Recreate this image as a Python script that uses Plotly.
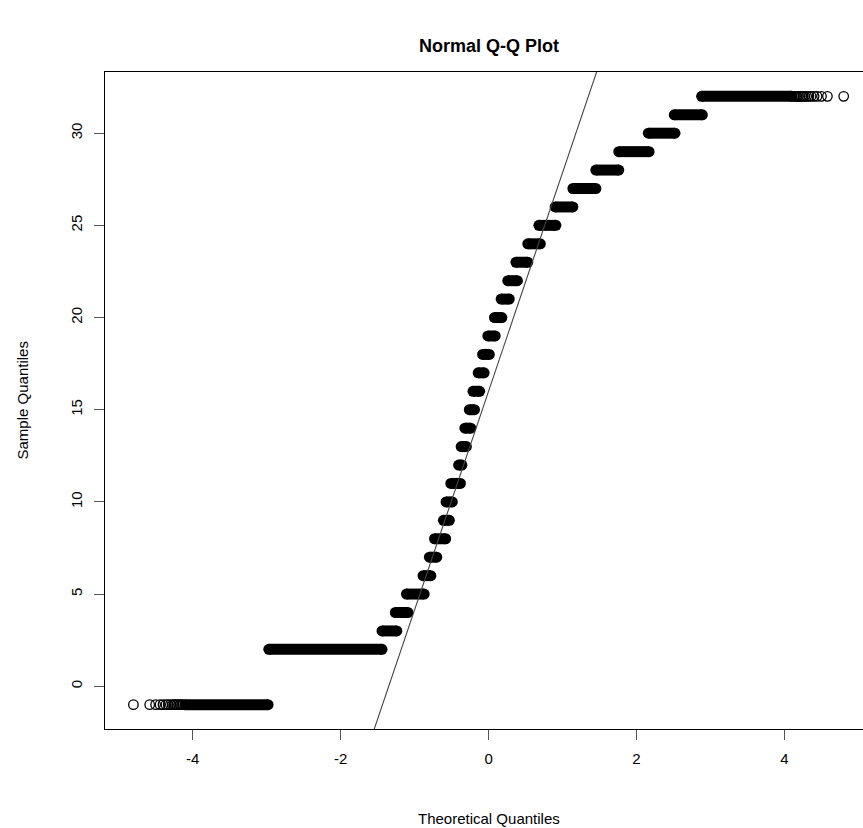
import plotly.graph_objects as go
import numpy as np

# ---- data (theoretical quantile span of each sample value) ----
levels = [2, 3, 4, 5, 6, 7, 8, 9, 10, 11, 12, 13, 14, 15, 16, 17, 18, 19, 20, 21,
          22, 23, 24, 25, 26, 27, 28, 29, 30, 31]
run_start = [-2.97, -1.44, -1.26, -1.11, -0.885, -0.80, -0.73, -0.61, -0.574, -0.51,
             -0.405, -0.37, -0.32, -0.26, -0.21, -0.14, -0.08, -0.01, 0.08, 0.17,
             0.26, 0.37, 0.53, 0.68, 0.90, 1.14, 1.45, 1.76, 2.16, 2.51]
run_end = [-1.44, -1.24, -1.09, -0.87, -0.78, -0.70, -0.58, -0.53, -0.49, -0.38,
           -0.36, -0.30, -0.24, -0.19, -0.12, -0.06, 0.01, 0.09, 0.18, 0.28,
           0.39, 0.53, 0.70, 0.91, 1.14, 1.45, 1.76, 2.17, 2.52, 2.89]

low_level = -1
low_dense = [-4.10, -2.98]
low_tail = [-4.80, -4.58, -4.50, -4.44, -4.40, -4.36, -4.33, -4.30, -4.27, -4.25,
            -4.23, -4.21, -4.19, -4.17, -4.15, -4.13]

high_level = 32
high_dense = [2.88, 4.10]
high_tail = [4.13, 4.15, 4.17, 4.19, 4.21, 4.23, 4.25, 4.27, 4.30, 4.33, 4.36,
             4.40, 4.44, 4.50, 4.58, 4.80]

# quartiles used by qqline
sample_quartiles = [8.0, 24.0]
theoretical_quartiles = [-0.6745, 0.6745]

x_ticks = [-4, -2, 0, 2, 4]
y_ticks = [0, 5, 10, 15, 20, 25, 30]

# ---- build run segments ----
all_levels = [low_level] + levels + [high_level]
all_start = [low_dense[0]] + run_start + [high_dense[0]]
all_end = [low_dense[1]] + run_end + [high_dense[1]]
seg_x, seg_y = [], []
for lv, s, e in zip(all_levels, all_start, all_end):
    seg_x += [s, e, None]
    seg_y += [lv, lv, None]

FONT = "Liberation Sans, Arial, Helvetica, sans-serif"

fig = go.Figure()
fig.add_trace(go.Scatter(
    x=seg_x, y=seg_y, mode="lines+markers",
    line=dict(color="black", width=11),
    marker=dict(color="black", size=11, line=dict(width=0)),
    hoverinfo="skip", showlegend=False,
))
fig.add_trace(go.Scatter(
    x=low_tail + high_tail,
    y=[low_level] * len(low_tail) + [high_level] * len(high_tail),
    mode="markers",
    marker=dict(symbol="circle-open", size=9.5, color="black", line=dict(width=1.3)),
    hoverinfo="skip", showlegend=False,
))

# qqline through the quartiles
slope = (sample_quartiles[1] - sample_quartiles[0]) / (theoretical_quartiles[1] - theoretical_quartiles[0])
intercept = sample_quartiles[0] - slope * theoretical_quartiles[0]
lx = np.array([-5.5, 5.5])
fig.add_trace(go.Scatter(
    x=lx, y=intercept + slope * lx, mode="lines",
    line=dict(color="#444444", width=1.1),
    hoverinfo="skip", showlegend=False,
))

fig.update_layout(
    width=863, height=828,
    margin=dict(l=105, r=0, t=72, b=99),
    paper_bgcolor="white", plot_bgcolor="white",
    font=dict(family=FONT, size=15, color="black"),
    title=dict(text="<b>Normal Q-Q Plot</b>", font=dict(family=FONT, size=18, color="black"),
               x=489 / 863, xanchor="center", xref="container",
               y=1 - 46 / 828, yanchor="middle", yref="container"),
    showlegend=False,
)
fig.update_xaxes(
    range=[-5.184, 5.061], tickvals=x_ticks, ticktext=[str(v) for v in x_ticks],
    showgrid=False, zeroline=False, showline=True, linecolor="black", linewidth=1,
    mirror=True, ticks="outside", ticklen=10, tickcolor="#555555", tickwidth=1,
    ticklabelstandoff=6, tickfont=dict(family=FONT, size=15, color="black"),
)
fig.update_yaxes(
    range=[-2.32, 33.32], tickvals=y_ticks, ticktext=[str(v) for v in y_ticks],
    showgrid=False, zeroline=False, showline=True, linecolor="black", linewidth=1,
    mirror=False, ticks="outside", ticklen=10, tickcolor="#555555", tickwidth=1,
    tickangle=-90, ticklabelstandoff=6, tickfont=dict(family=FONT, size=15, color="black"),
)
fig.add_annotation(text="Theoretical Quantiles", xref="paper", yref="paper",
                   x=(489 - 105) / 758, y=(729 - 818) / 657, xanchor="center", yanchor="middle",
                   showarrow=False, font=dict(family=FONT, size=15, color="black"))
fig.add_annotation(text="Sample Quantiles", xref="paper", yref="paper",
                   x=(22 - 105) / 758, y=0.5, xanchor="center", yanchor="middle", textangle=-90,
                   showarrow=False, font=dict(family=FONT, size=15, color="black"))

fig.write_html("out.html")
